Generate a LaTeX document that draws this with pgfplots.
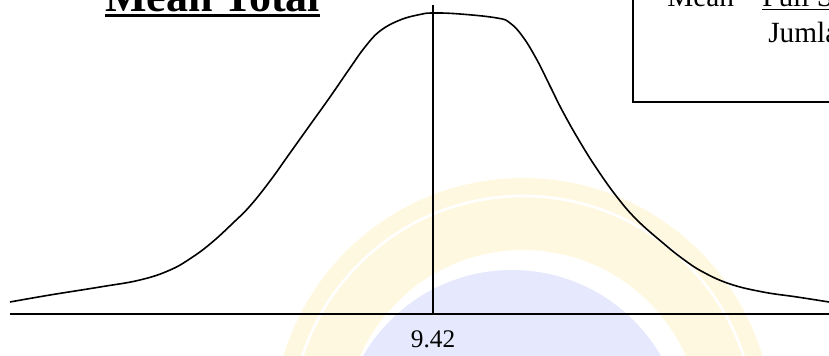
\documentclass[border=0pt]{standalone}
\usepackage{pgfplots}
\pgfplotsset{compat=1.18}
\usepackage{fontspec}
\setmainfont{Liberation Serif}

\definecolor{wmYellow}{HTML}{FFF8E0}
\definecolor{wmBlue}{HTML}{E6E8FD}

% pixel-style coordinates: origin top-left, y downwards, 1 unit = 0.75pt
\newcommand{\pxpt}[2]{({(#1)*0.75pt},{(356-(#2))*0.75pt})}

\begin{document}
\begin{tikzpicture}
\useasboundingbox (0,0) rectangle (621.75pt,267pt);
\clip (0,0) rectangle (621.75pt,267pt);

% faint seal in the background
\fill[wmYellow, even odd rule] \pxpt{523}{428} circle (250*0.75pt) \pxpt{523}{428} circle (178*0.75pt);
\draw[white, line width=2pt] \pxpt{523}{428} circle (232*0.75pt);
\fill[wmBlue] \pxpt{512}{442} circle (172*0.75pt);

\begin{axis}[
  at={(7.5pt,31.5pt)}, anchor=south west,
  scale only axis, width=614.25pt, height=231.75pt,
  xmin=0.96, xmax=17.34, ymin=0, ymax=1.0266,
  hide axis, clip=false,
]
% distribution curve
\addplot[black, line width=1.2pt, smooth, tension=0.7] coordinates {
  (0.96,0.0399) (1.76,0.0631) (2.76,0.0897) (3.56,0.1130) (4.16,0.1460)
  (4.60,0.1880) (5.00,0.2380) (5.42,0.3023) (5.76,0.3588) (6.16,0.4419)
  (6.56,0.5349) (6.96,0.6279) (7.36,0.7209) (7.76,0.8173) (8.06,0.8870)
  (8.36,0.9402) (8.76,0.9767) (9.16,0.9950) (9.42,1.0000)
  (9.96,0.9967) (10.70,0.9834) (10.96,0.9668) (11.22,0.9203) (11.50,0.8439)
  (11.76,0.7575) (12.02,0.6711) (12.36,0.5714) (12.70,0.4817) (13.10,0.3887)
  (13.50,0.3123) (14.02,0.2359) (14.42,0.1827) (14.82,0.1395) (15.36,0.0997)
  (16.02,0.0731) (16.70,0.0565) (17.34,0.0399)
};
% horizontal axis
\addplot[black, line width=1pt] coordinates {(0.96,0) (17.34,0)};
% mean line
\addplot[black, line width=1.3pt] coordinates {(9.42,0) (9.42,1.027)};
\node[anchor=north, font=\fontsize{19}{22}\selectfont, inner sep=0pt]
  at (axis cs:9.42,-0.056) {9.42};
\end{axis}

% title
\node[anchor=base west, inner sep=0pt, font=\fontsize{33}{40}\selectfont\bfseries]
  (t) at \pxpt{105}{12} {Mean Total};
\draw[line width=2.2pt] ([yshift=-2.6pt]t.base west) -- ([yshift=-2.6pt]t.base east);

% formula box
\draw[line width=1.1pt] \pxpt{633}{-10} -- \pxpt{633}{102} -- \pxpt{850}{102};
\node[anchor=base west, inner sep=0pt, font=\fontsize{22}{26}\selectfont]
  at \pxpt{667}{7} {Mean =};
\node[anchor=base west, inner sep=0pt, font=\fontsize{22}{26}\selectfont]
  at \pxpt{762}{7} {\underline{Full Skor}};
\node[anchor=base west, inner sep=0pt, font=\fontsize{22}{26}\selectfont]
  at \pxpt{768}{43} {Jumlah Responden};
\end{tikzpicture}
\end{document}
